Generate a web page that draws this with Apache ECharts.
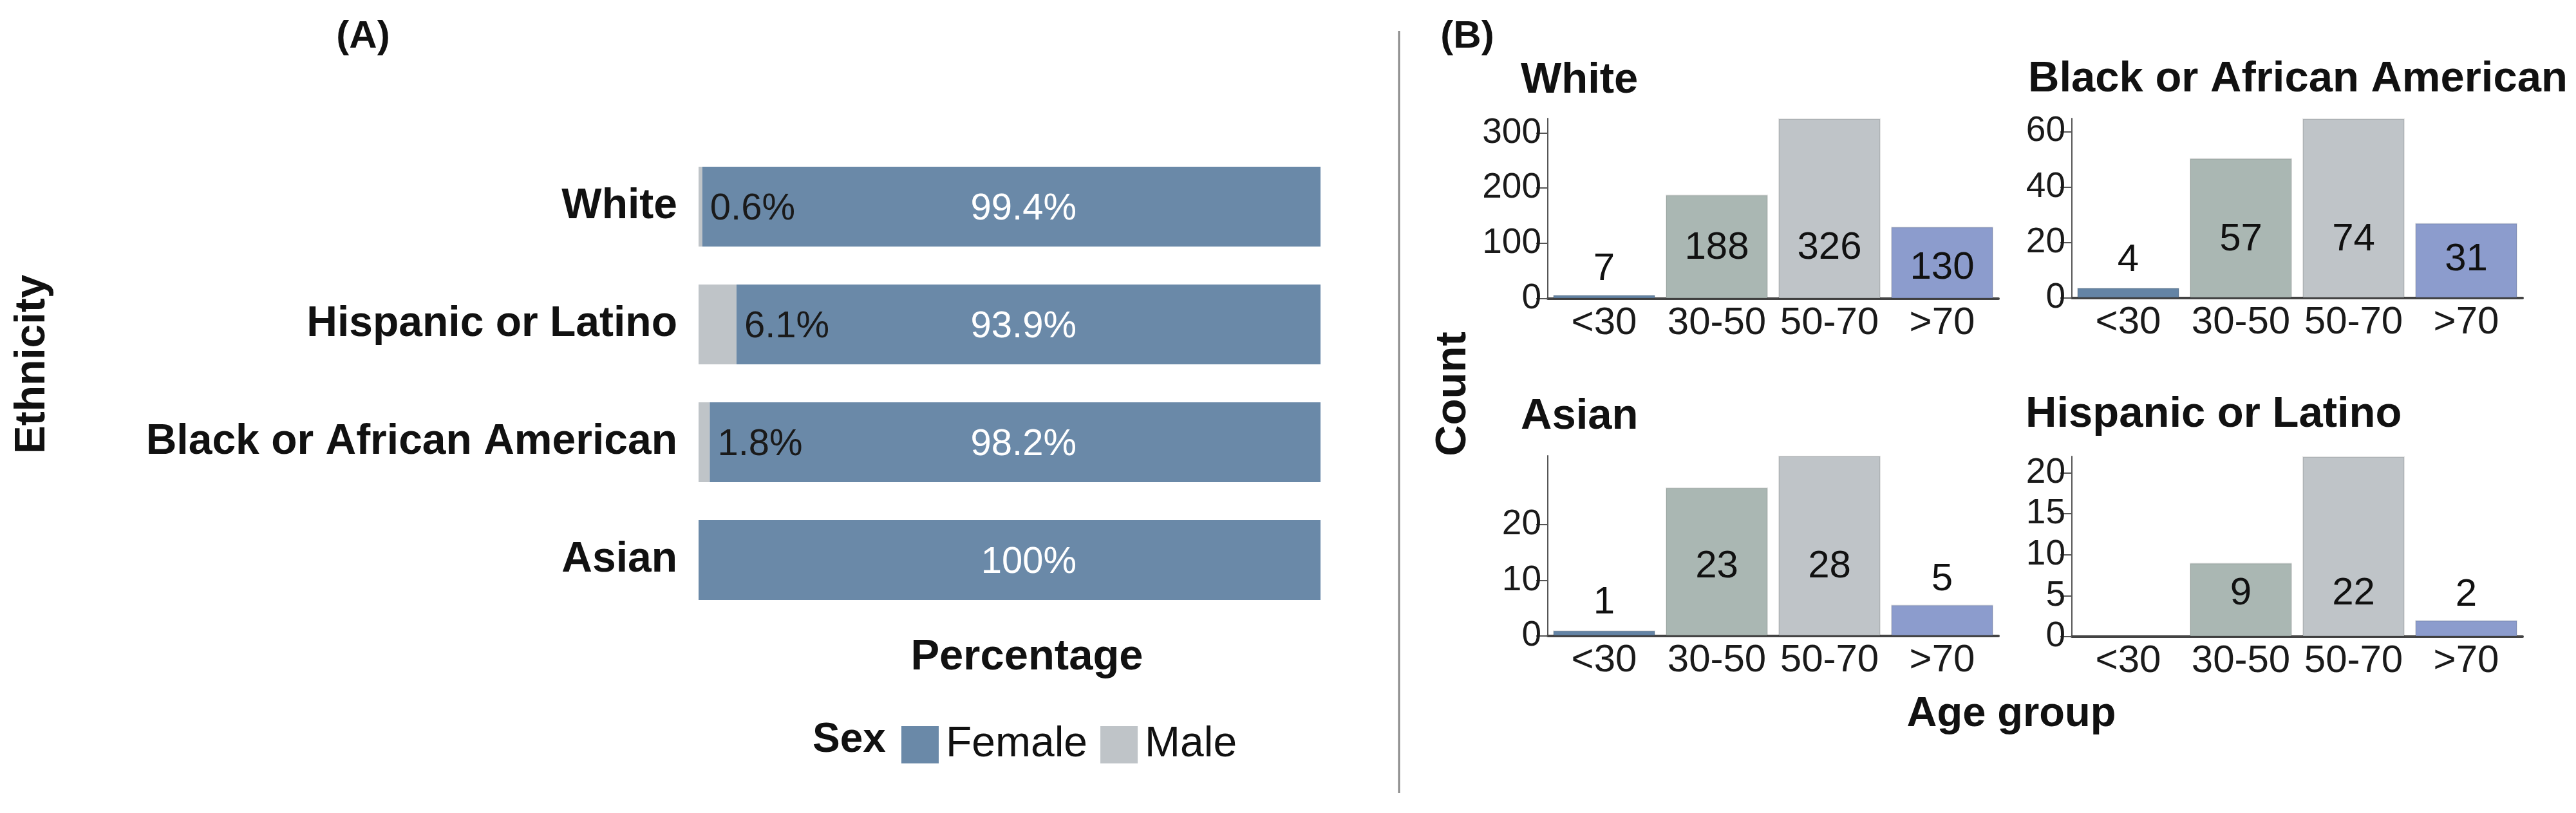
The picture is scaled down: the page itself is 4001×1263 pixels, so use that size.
<!DOCTYPE html>
<html>
<head>
<meta charset="utf-8">
<script src="https://cdn.jsdelivr.net/npm/echarts@6/dist/echarts.min.js"></script>
<style>
html,body{margin:0;padding:0;background:#fff;}
#chart{width:4001px;height:1263px;}
</style>
</head>
<body>
<div id="chart"></div>
<script>
// ---------- Data ----------
const ethnicities = ['White', 'Hispanic or Latino', 'Black or African American', 'Asian'];
const malePct = [0.6, 6.1, 1.8, 0];
const femalePct = [99.4, 93.9, 98.2, 100];

const ageGroups = ['<30', '30-50', '50-70', '>70'];
// printed counts
const whiteCounts = [7, 188, 326, 130];
const blackCounts = [4, 57, 74, 31];
const asianCounts = [1, 23, 28, 5];
const hispanicCounts = [null, 9, 22, 2];
// bar heights as drawn against each panel's axis
const whiteHeights = [7, 188, 326, 130];
const blackHeights = [3.7, 50.4, 64.7, 27];
const asianHeights = [1.0, 26.7, 32.4, 5.6];
const hispanicHeights = [null, 9, 22, 2];
// tick labels
const whiteTicks = [0, 100, 200, 300];
const blackTicks = [0, 20, 40, 60];
const asianTicks = [0, 10, 20];
const hispanicTicks = [0, 5, 10, 15, 20];

// ---------- Styles ----------
const FONT = "'Liberation Sans', Arial, sans-serif";
const femaleColor = '#6a89a8';
const maleColor = '#bfc4c8';
const ageColors = ['#6484a5', '#aab7b3', '#bfc4c8', '#8c9ccd'];
// label centre height above baseline (px), per panel
const labelRise = {
  white: [46, 79, 79, 48],
  black: [59, 91, 91, 60],
  asian: [52, 108, 108, 88],
  hispanic: [0, 67, 67, 65]
};

const chart = echarts.init(document.getElementById('chart'), null, {renderer: 'canvas'});

const panels = [
  {key: 'white', title: 'White', counts: whiteCounts, heights: whiteHeights, ticks: whiteTicks,
   grid: {left: 2404, top: 184, width: 700, height: 280}},
  {key: 'black', title: 'Black or African American', counts: blackCounts, heights: blackHeights, ticks: blackTicks,
   grid: {left: 3218, top: 184, width: 700, height: 279}},
  {key: 'asian', title: 'Asian', counts: asianCounts, heights: asianHeights, ticks: asianTicks,
   grid: {left: 2404, top: 708, width: 700, height: 280}},
  {key: 'hispanic', title: 'Hispanic or Latino', counts: hispanicCounts, heights: hispanicHeights, ticks: hispanicTicks,
   grid: {left: 3218, top: 709, width: 700, height: 280}}
];

const grids = [{left: 1085, top: 229.5, width: 966, height: 732}];
const xAxes = [{
  gridIndex: 0, type: 'value', min: 0, max: 100, show: false
}];
const yAxes = [{
  gridIndex: 0, type: 'category', data: ethnicities, inverse: true,
  axisLine: {show: false}, axisTick: {show: false},
  axisLabel: {fontFamily: FONT, fontWeight: 'bold', fontSize: 66, color: '#111', margin: 33, interval: 0}
}];
const series = [
  {
    name: 'Male', type: 'bar', stack: 'sex', xAxisIndex: 0, yAxisIndex: 0,
    data: malePct, barWidth: 124, itemStyle: {color: maleColor},
    label: {show: true, position: 'right', distance: 12, color: '#1a1a1a',
      fontFamily: FONT, fontSize: 58, offset: [0, 4],
      formatter: p => p.value > 0 ? p.value + '%' : ''}
  },
  {
    name: 'Female', type: 'bar', stack: 'sex', xAxisIndex: 0, yAxisIndex: 0,
    data: femalePct, barWidth: 124, itemStyle: {color: femaleColor},
    label: {show: true, position: 'insideRight', distance: 379, color: '#ffffff',
      fontFamily: FONT, fontSize: 58, offset: [0, 4],
      formatter: p => p.value + '%'}
  }
];

const graphics = [
  {type: 'line', shape: {x1: 2173, y1: 48, x2: 2173, y2: 1232}, style: {stroke: '#8a8a8a', lineWidth: 3}},
  {type: 'text', x: 564, y: 57, style: {text: '(A)', fontFamily: FONT, fontWeight: 'bold', fontSize: 60, fill: '#111', align: 'center', verticalAlign: 'middle'}},
  {type: 'text', x: 2279, y: 57, style: {text: '(B)', fontFamily: FONT, fontWeight: 'bold', fontSize: 60, fill: '#111', align: 'center', verticalAlign: 'middle'}},
  {type: 'text', x: 51, y: 566, rotation: Math.PI / 2, style: {text: 'Ethnicity', fontFamily: FONT, fontWeight: 'bold', fontSize: 66, fill: '#111', align: 'center', verticalAlign: 'middle'}},
  {type: 'text', x: 1595, y: 1022, style: {text: 'Percentage', fontFamily: FONT, fontWeight: 'bold', fontSize: 67, fill: '#111', align: 'center', verticalAlign: 'middle'}},
  {type: 'text', x: 1262, y: 1150, style: {text: 'Sex', fontFamily: FONT, fontWeight: 'bold', fontSize: 64, fill: '#111', align: 'left', verticalAlign: 'middle'}},
  {type: 'text', x: 2258, y: 612, rotation: Math.PI / 2, style: {text: 'Count', fontFamily: FONT, fontWeight: 'bold', fontSize: 67, fill: '#111', align: 'center', verticalAlign: 'middle'}},
  {type: 'text', x: 3124, y: 1110, style: {text: 'Age group', fontFamily: FONT, fontWeight: 'bold', fontSize: 65, fill: '#111', align: 'center', verticalAlign: 'middle'}}
];

const titleY = {white: 126, black: 124, asian: 648, hispanic: 645};
const titleX = {white: 2362, black: 3150, asian: 2362, hispanic: 3146};

panels.forEach((pn, i) => {
  const gi = i + 1;
  grids.push(pn.grid);
  xAxes.push({
    gridIndex: gi, type: 'category', data: ageGroups,
    axisLine: {show: true, lineStyle: {color: '#444', width: 4}},
    axisTick: {show: false},
    axisLabel: {fontFamily: FONT, fontSize: 60, color: '#1a1a1a', margin: 8, interval: 0, hideOverlap: false}
  });
  yAxes.push({
    gridIndex: gi, type: 'value', min: 0, max: 'dataMax',
    splitLine: {show: false},
    axisLine: {show: true, lineStyle: {color: '#555', width: 2}},
    axisTick: {show: true, length: 18, lineStyle: {color: '#555', width: 2}, customValues: pn.ticks},
    axisLabel: {fontFamily: FONT, fontSize: 55, color: '#1a1a1a', margin: 10, customValues: pn.ticks}
  });
  series.push({
    type: 'bar', xAxisIndex: gi, yAxisIndex: gi, barWidth: 159,
    data: pn.heights.map((h, j) => ({
      value: h,
      itemStyle: {color: ageColors[j], borderColor: 'rgba(0,0,0,0.10)', borderWidth: 2},
      label: {distance: labelRise[pn.key][j] - 30}
    })),
    label: {
      show: true, position: 'insideBottom', color: '#111', fontFamily: FONT, fontSize: 60,
      formatter: p => (pn.counts[p.dataIndex] == null ? '' : String(pn.counts[p.dataIndex]))
    }
  });
  graphics.push({type: 'text', x: titleX[pn.key], y: titleY[pn.key],
    style: {text: pn.title, fontFamily: FONT, fontWeight: 'bold', fontSize: 67, fill: '#111', align: 'left', verticalAlign: 'middle'}});
});

chart.setOption({
  backgroundColor: '#ffffff',
  animation: false,
  grid: grids,
  xAxis: xAxes,
  yAxis: yAxes,
  series: series,
  legend: {
    data: ['Female', 'Male'], left: 1395, top: 1119, itemWidth: 58, itemHeight: 58, itemGap: 20,
    icon: 'rect', selectedMode: false,
    textStyle: {fontFamily: FONT, fontSize: 66, color: '#111', padding: [0, 0, 0, 6]}
  },
  graphic: graphics
});
</script>
</body>
</html>
